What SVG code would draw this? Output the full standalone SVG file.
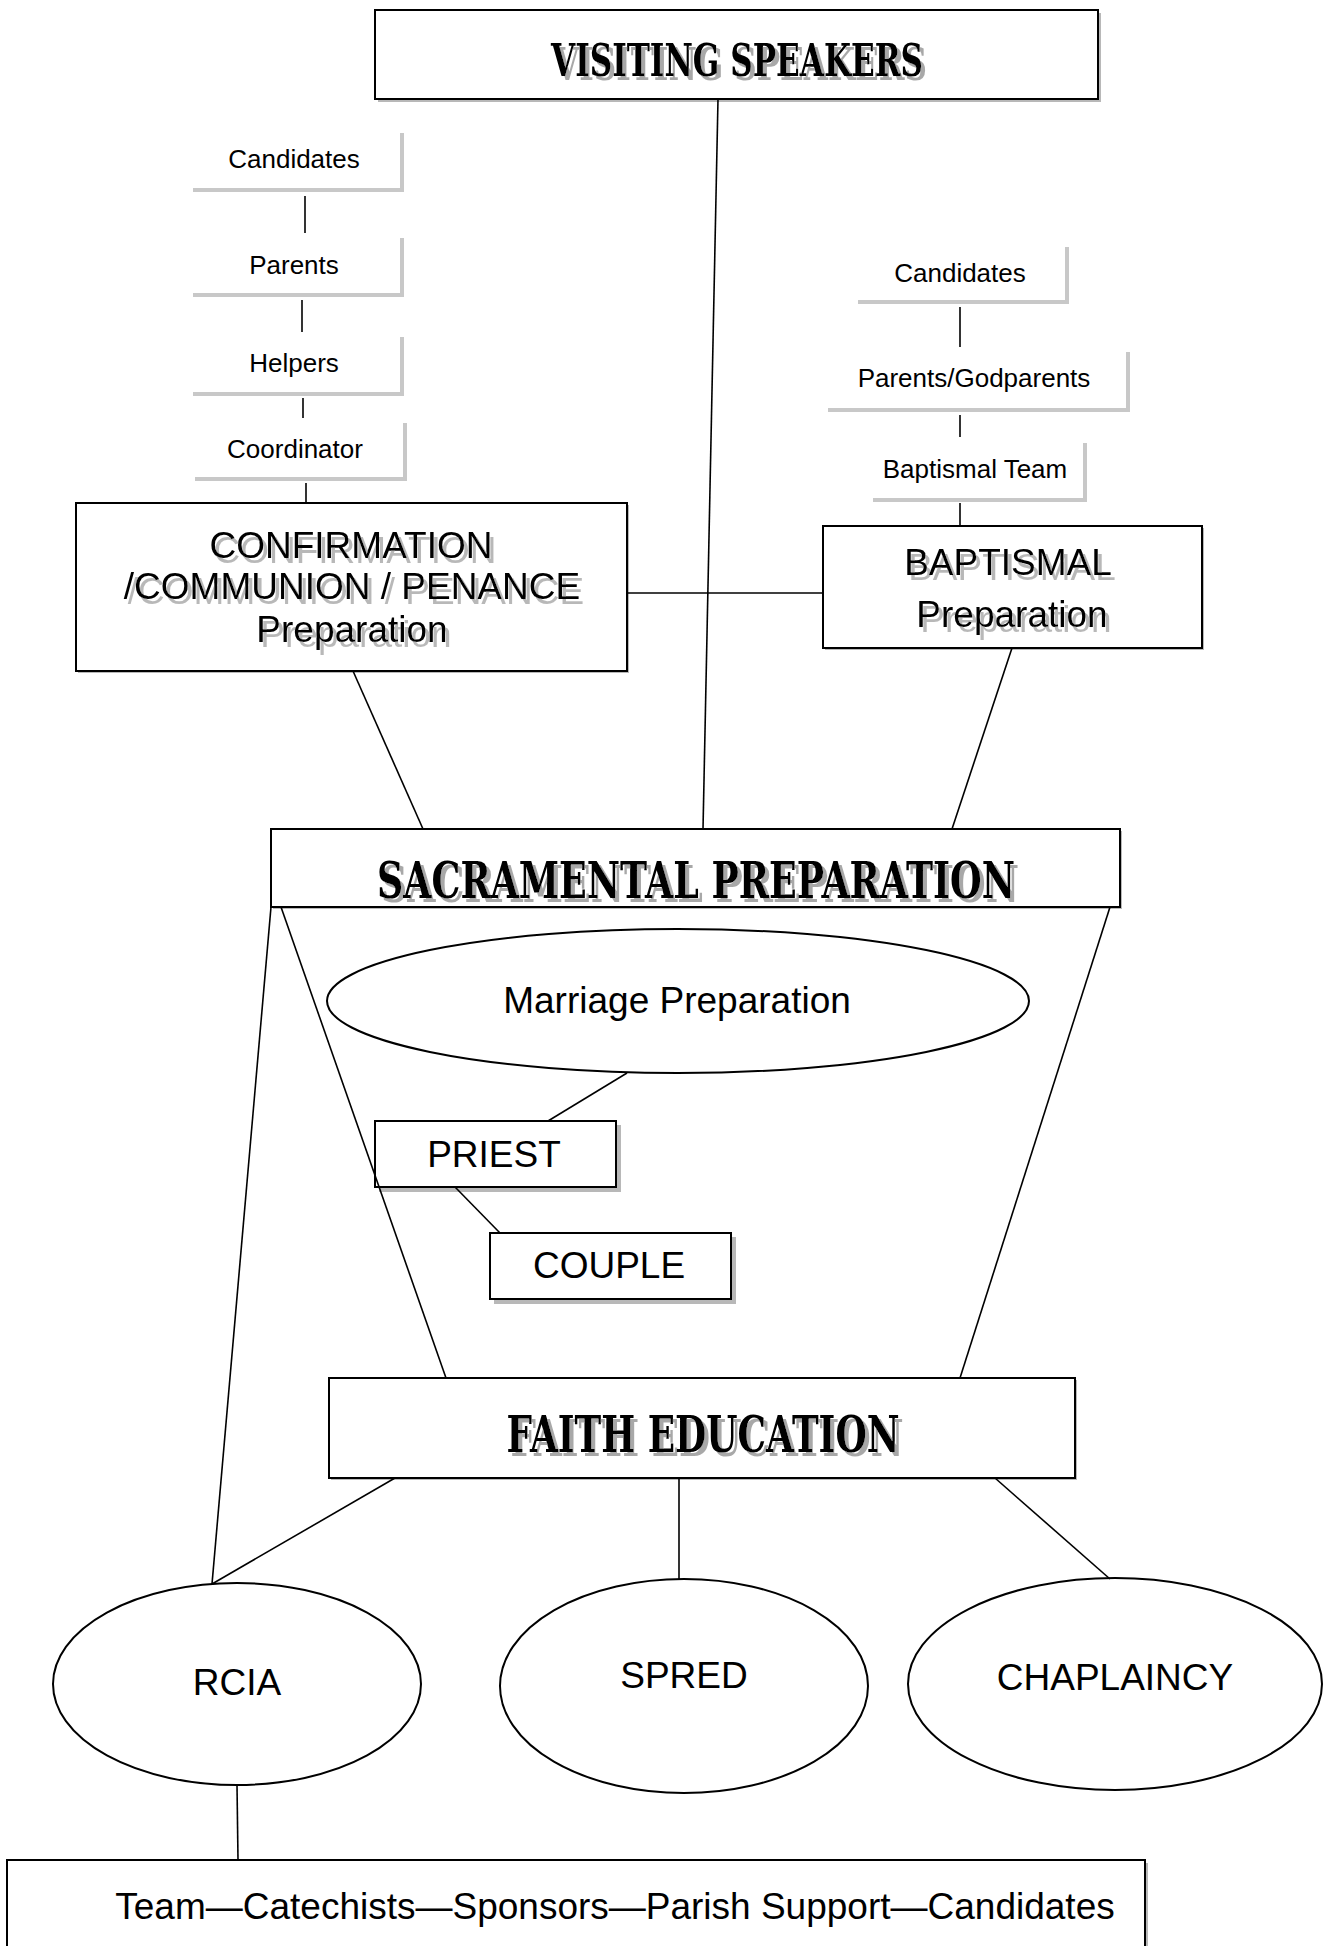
<svg xmlns="http://www.w3.org/2000/svg" width="1326" height="1946" viewBox="0 0 1326 1946">
<defs>
<filter id="tsh" x="-5%" y="-30%" width="115%" height="170%">
<feOffset in="SourceAlpha" dx="4" dy="5" result="o"/>
<feFlood flood-color="#b8b8b8"/>
<feComposite in2="o" operator="in" result="s"/>
<feMerge><feMergeNode in="s"/><feMergeNode in="SourceGraphic"/></feMerge>
</filter>
<filter id="hsh" x="-5%" y="-30%" width="115%" height="170%">
<feOffset in="SourceAlpha" dx="4" dy="4" result="o"/>
<feFlood flood-color="#a8a8a8"/>
<feComposite in2="o" operator="in" result="s"/>
<feMerge><feMergeNode in="s"/><feMergeNode in="SourceGraphic"/></feMerge>
</filter>
</defs>
<style>
.box{fill:#fff;stroke:#000;stroke-width:2}
.bshadow{fill:#b8b8b8;stroke:none}
.sh{fill:none;stroke:#c8c8c8;stroke-width:4}
.ell{fill:#fff;stroke:#000;stroke-width:2}
.conn line{stroke:#000;stroke-width:1.6}
.t{font-family:"Liberation Sans",Arial,sans-serif;fill:#000;text-anchor:middle}
.s{font-size:26px}
.b{font-size:37px}
.title{font-family:"DejaVu Serif","Liberation Serif",serif;font-weight:bold;fill:#000;text-anchor:middle}
</style>
<rect width="1326" height="1946" fill="#fff"/>

<g id="visiting-speakers">
<rect class="bshadow" x="378" y="13" width="723" height="89"/>
<rect class="box" x="375" y="10" width="723" height="89"/>
<text class="title" x="737" y="76" font-size="44" textLength="372" lengthAdjust="spacingAndGlyphs" filter="url(#hsh)">VISITING SPEAKERS</text>
</g>

<g id="l-candidates">
<polyline class="sh" points="402,133 402,190 193,190"/>
<text class="t s" x="294" y="168">Candidates</text>
</g>
<g id="l-parents">
<polyline class="sh" points="402,238 402,295 193,295"/>
<text class="t s" x="294" y="274">Parents</text>
</g>
<g id="l-helpers">
<polyline class="sh" points="402,337 402,394 193,394"/>
<text class="t s" x="294" y="372">Helpers</text>
</g>
<g id="l-coordinator">
<polyline class="sh" points="405,423 405,479 195,479"/>
<text class="t s" x="295" y="458">Coordinator</text>
</g>

<g id="r-candidates">
<polyline class="sh" points="1067,247 1067,302 858,302"/>
<text class="t s" x="960" y="282">Candidates</text>
</g>
<g id="r-parents-godparents">
<polyline class="sh" points="1128,352 1128,410 828,410"/>
<text class="t s" x="974" y="387">Parents/Godparents</text>
</g>
<g id="r-baptismal-team">
<polyline class="sh" points="1085,443 1085,500 873,500"/>
<text class="t s" x="975" y="478">Baptismal Team</text>
</g>

<g id="confirmation">
<rect class="bshadow" x="78" y="505" width="551" height="168"/>
<rect class="box" x="76" y="503" width="551" height="168"/>
<g filter="url(#tsh)">
<text class="t b" x="351" y="558">CONFIRMATION</text>
<text class="t b" x="352" y="599">/COMMUNION / PENANCE</text>
<text class="t b" x="352" y="642">Preparation</text>
</g>
</g>

<g id="baptismal">
<rect class="bshadow" x="825" y="528" width="379" height="122"/>
<rect class="box" x="823" y="526" width="379" height="122"/>
<g filter="url(#tsh)">
<text class="t b" x="1008" y="575">BAPTISMAL</text>
<text class="t b" x="1012" y="627">Preparation</text>
</g>
</g>

<g id="sacramental-preparation">
<rect class="bshadow" x="273" y="831" width="849" height="78"/>
<rect class="box" x="271" y="829" width="849" height="78"/>
<text class="title" x="696" y="898" font-size="50" textLength="638" lengthAdjust="spacingAndGlyphs" filter="url(#hsh)">SACRAMENTAL PREPARATION</text>
</g>

<g id="marriage-preparation">
<ellipse class="ell" cx="678" cy="1001" rx="351" ry="72"/>
<text class="t b" x="677" y="1013">Marriage Preparation</text>
</g>

<g id="priest">
<rect class="bshadow" x="379" y="1125" width="242" height="67"/>
<rect class="box" x="375" y="1121" width="241" height="66"/>
<text class="t b" x="494" y="1167">PRIEST</text>
</g>

<g id="couple">
<rect class="bshadow" x="494" y="1237" width="242" height="67"/>
<rect class="box" x="490" y="1233" width="241" height="66"/>
<text class="t b" x="609" y="1278">COUPLE</text>
</g>

<g id="faith-education">
<rect class="bshadow" x="331" y="1380" width="746" height="100"/>
<rect class="box" x="329" y="1378" width="746" height="100"/>
<text class="title" x="703" y="1452" font-size="50" textLength="393" lengthAdjust="spacingAndGlyphs" filter="url(#hsh)">FAITH EDUCATION</text>
</g>

<g id="rcia">
<ellipse class="ell" cx="237" cy="1684" rx="184" ry="101"/>
<text class="t b" x="237" y="1695">RCIA</text>
</g>
<g id="spred">
<ellipse class="ell" cx="684" cy="1686" rx="184" ry="107"/>
<text class="t b" x="684" y="1688">SPRED</text>
</g>
<g id="chaplaincy">
<ellipse class="ell" cx="1115" cy="1684" rx="207" ry="106"/>
<text class="t b" x="1115" y="1690">CHAPLAINCY</text>
</g>

<g id="rcia-members">
<rect class="bshadow" x="10" y="1863" width="1138" height="120"/>
<rect class="box" x="7" y="1860" width="1138" height="120"/>
<text class="t b" x="615" y="1919">Team—Catechists—Sponsors—Parish Support—Candidates</text>
</g>

<g id="connectors" class="conn">
<line x1="718" y1="99" x2="703" y2="829"/>
<line x1="305" y1="196" x2="305" y2="233"/>
<line x1="302" y1="300" x2="302" y2="332"/>
<line x1="303" y1="398" x2="303" y2="418"/>
<line x1="306" y1="483" x2="306" y2="503"/>
<line x1="960" y1="307" x2="960" y2="347"/>
<line x1="960" y1="415" x2="960" y2="437"/>
<line x1="960" y1="503" x2="960" y2="526"/>
<line x1="627" y1="593" x2="823" y2="593"/>
<line x1="353" y1="671" x2="423" y2="829"/>
<line x1="1012" y1="648" x2="952" y2="829"/>
<line x1="271" y1="907" x2="212" y2="1584"/>
<line x1="281" y1="907" x2="446" y2="1378"/>
<line x1="1110" y1="907" x2="960" y2="1378"/>
<line x1="627" y1="1073" x2="548" y2="1121"/>
<line x1="455" y1="1187" x2="500" y2="1233"/>
<line x1="395" y1="1478" x2="212" y2="1584"/>
<line x1="679" y1="1478" x2="679" y2="1579"/>
<line x1="995" y1="1478" x2="1110" y2="1579"/>
<line x1="237" y1="1785" x2="238" y2="1860"/>
</g>
</svg>
